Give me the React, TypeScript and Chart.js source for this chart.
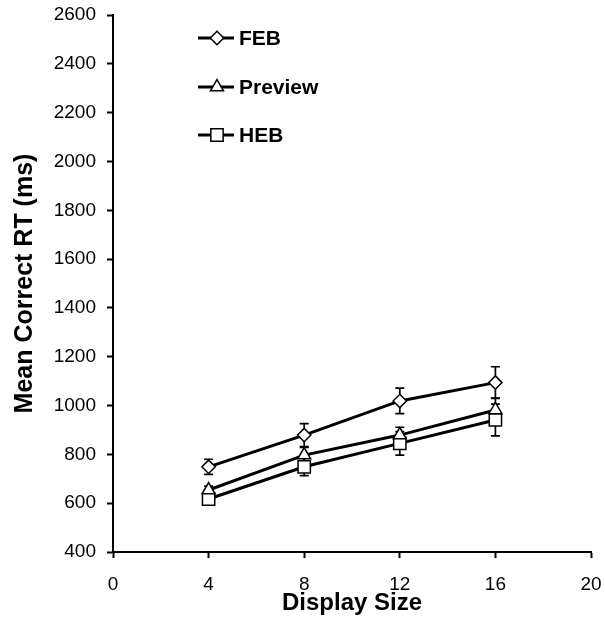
import React, { useEffect, useRef } from "react";
import { Chart, registerables } from "chart.js";

Chart.register(...registerables);

const displaySizes = [4, 8, 12, 16];
const febMeans = [749, 879, 1019, 1094];
const febErrors = [31, 47, 52, 65];
const previewMeans = [654, 797, 879, 982];
const previewErrors = [16, 32, 32, 48];
const hebMeans = [617, 749, 845, 941];
const hebErrors = [12, 36, 48, 65];
const seriesNames = ["FEB", "Preview", "HEB"];
const pointStyles = ["rectRot", "triangle", "rect"];
const pointRadii = [6.7, 7.5, 8.7];
const xTitle = "Display Size";
const yTitle = "Mean Correct RT (ms)";

const FONT = "'Liberation Sans', Arial, sans-serif";

function drawShape(ctx: CanvasRenderingContext2D, style: string, x: number, y: number, r: number) {
  ctx.beginPath();
  if (style === "rectRot") {
    ctx.moveTo(x, y - r);
    ctx.lineTo(x + r, y);
    ctx.lineTo(x, y + r);
    ctx.lineTo(x - r, y);
    ctx.closePath();
  } else if (style === "triangle") {
    for (let i = 0; i < 3; i++) {
      const ang = -Math.PI / 2 + (i * 2 * Math.PI) / 3;
      const px = x + Math.cos(ang) * r;
      const py = y + Math.sin(ang) * r;
      if (i === 0) ctx.moveTo(px, py);
      else ctx.lineTo(px, py);
    }
    ctx.closePath();
  } else {
    const s = r / Math.SQRT2;
    ctx.rect(x - s, y - s, 2 * s, 2 * s);
  }
  ctx.fillStyle = "#fff";
  ctx.fill();
  ctx.stroke();
}

const errorBarPlugin = {
  id: "errorBars",
  beforeDatasetsDraw(chart: any) {
    const ctx = chart.ctx;
    const xs = chart.scales.x;
    const ys = chart.scales.y;
    ctx.save();
    ctx.strokeStyle = "#000";
    ctx.lineWidth = 1.7;
    chart.data.datasets.forEach((ds: any) => {
      ds.data.forEach((p: any, i: number) => {
        const e = ds.errors[i];
        const px = xs.getPixelForValue(p.x);
        const top = ys.getPixelForValue(p.y + e);
        const bot = ys.getPixelForValue(p.y - e);
        ctx.beginPath();
        ctx.moveTo(px, top);
        ctx.lineTo(px, bot);
        ctx.moveTo(px - 4.5, top);
        ctx.lineTo(px + 4.5, top);
        ctx.moveTo(px - 4.5, bot);
        ctx.lineTo(px + 4.5, bot);
        ctx.stroke();
      });
    });
    ctx.restore();
  },
};

const legendPlugin = {
  id: "insideLegend",
  afterDraw(chart: any) {
    const ctx = chart.ctx;
    const rows = [38, 87, 135];
    ctx.save();
    chart.data.datasets.forEach((ds: any, i: number) => {
      const y = rows[i];
      ctx.strokeStyle = "#000";
      ctx.lineWidth = 3;
      ctx.beginPath();
      ctx.moveTo(198, y);
      ctx.lineTo(234, y);
      ctx.stroke();
      ctx.lineWidth = 1.5;
      drawShape(ctx, ds.pointStyle, 217, y, ds.pointRadius);
      ctx.fillStyle = "#000";
      ctx.font = `bold 21px ${FONT}`;
      ctx.textAlign = "left";
      ctx.textBaseline = "middle";
      ctx.fillText(ds.label, 239, y + 1);
    });
    ctx.restore();
  },
};

export default function App() {
  const ref = useRef<HTMLCanvasElement | null>(null);
  useEffect(() => {
    if (!ref.current) return;
    const means = [febMeans, previewMeans, hebMeans];
    const errs = [febErrors, previewErrors, hebErrors];
    const chart = new Chart(ref.current, {
      type: "line",
      data: {
        datasets: seriesNames.map((name, k) => ({
          label: name,
          data: displaySizes.map((x, i) => ({ x, y: means[k][i] })),
          errors: errs[k],
          borderColor: "#000",
          borderWidth: 3,
          pointStyle: pointStyles[k],
          pointRadius: pointRadii[k],
          pointBackgroundColor: "#fff",
          pointBorderColor: "#000",
          pointBorderWidth: 1.5,
          fill: false,
          tension: 0,
        })) as any,
      },
      options: {
        animation: false,
        responsive: true,
        maintainAspectRatio: false,
        layout: { padding: { left: 0, right: 14, top: 15, bottom: 0 } },
        plugins: { legend: { display: false }, tooltip: { enabled: false } },
        scales: {
          x: {
            type: "linear",
            min: 0,
            max: 20,
            afterFit(scale: any) {
              scale.height = 70;
              scale.paddingLeft = 0;
              scale.paddingRight = 0;
            },
            ticks: {
              stepSize: 4,
              color: "#000",
              padding: 15,
              font: { family: FONT, size: 19 },
              callback: (v: any) => String(v),
            },
            grid: {
              display: true,
              drawOnChartArea: false,
              drawTicks: true,
              tickLength: 6,
              tickColor: "#000",
              tickWidth: 2,
            },
            border: { display: true, color: "#000", width: 2 },
            title: {
              display: true,
              text: xTitle,
              color: "#000",
              padding: { top: 0, bottom: 4 },
              font: { family: FONT, size: 24, weight: "bold" },
            },
          },
          y: {
            min: 400,
            max: 2600,
            afterFit(scale: any) {
              scale.width = 113;
              scale.paddingTop = 0;
              scale.paddingBottom = 0;
            },
            ticks: {
              stepSize: 200,
              color: "#000",
              padding: 11,
              font: { family: FONT, size: 19 },
              callback: (v: any) => String(v),
            },
            grid: {
              display: true,
              drawOnChartArea: false,
              drawTicks: true,
              tickLength: 6,
              tickColor: "#000",
              tickWidth: 2,
            },
            border: { display: true, color: "#000", width: 2 },
            title: {
              display: true,
              text: yTitle,
              color: "#000",
              padding: { top: 10, bottom: 0 },
              font: { family: FONT, size: 25, weight: "bold" },
            },
          },
        },
      },
      plugins: [errorBarPlugin, legendPlugin],
    } as any);
    return () => chart.destroy();
  }, []);
  return (
    <div style={{ position: "absolute", left: 0, top: 0, width: 605, height: 622, background: "#fff" }}>
      <canvas ref={ref} />
    </div>
  );
}
